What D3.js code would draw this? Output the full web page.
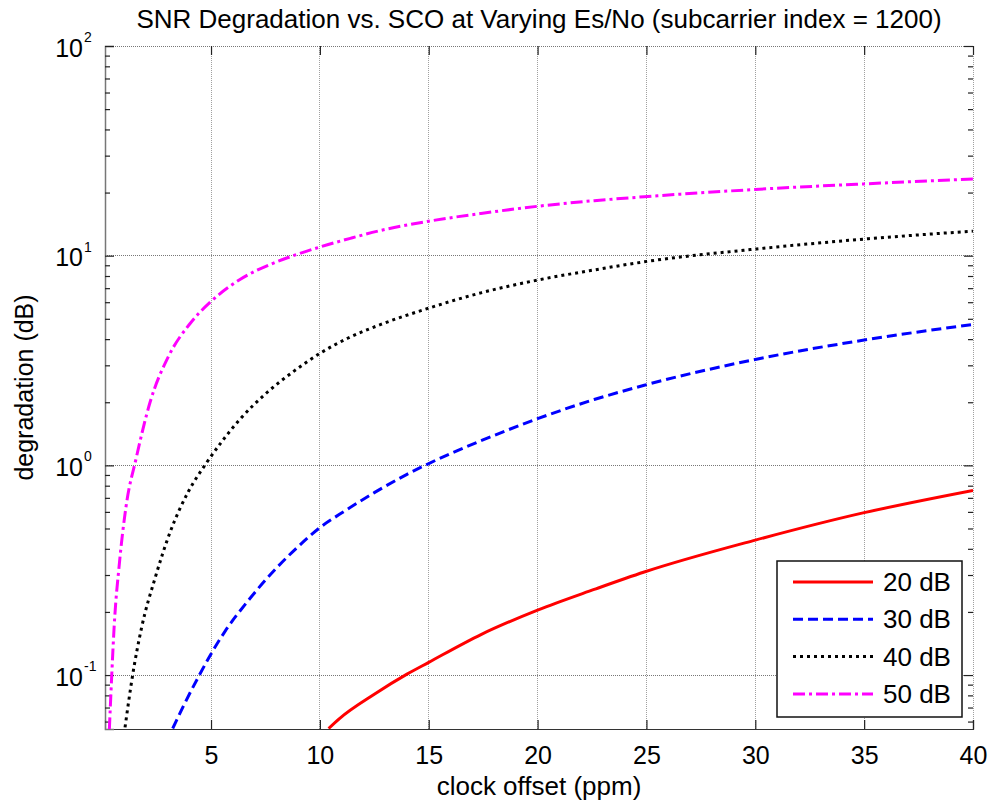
<!DOCTYPE html>
<html>
<head>
<meta charset="utf-8">
<script src="https://cdn.jsdelivr.net/npm/d3@7/dist/d3.min.js"></script>
<style>
  html, body { margin: 0; padding: 0; background: #ffffff; }
  svg { display: block; font-family: "Liberation Sans", Arial, Helvetica, sans-serif; }
</style>
</head>
<body>
<svg id="chart" width="988" height="802"></svg>
<script>
// Clock offset (ppm) and SNR degradation (dB) for each Es/No level
const offset20 = [10.4, 10.9, 12.5, 14.0, 15.0, 17.4, 20.0, 22.6, 24.9, 30.0, 35.0, 40.0];
const degr20   = [0.0556, 0.062, 0.081, 0.101, 0.115, 0.156, 0.204, 0.256, 0.310, 0.440, 0.595, 0.760];

const offset30 = [3.24, 3.73, 4.42, 4.96, 5.65, 6.64, 8.02, 9.09, 10.0, 10.9, 12.5, 14.0, 15.0, 16.1, 17.4, 20.0, 22.6, 24.9, 30.0, 35.0, 40.0];
const degr30   = [0.0556, 0.0711, 0.098, 0.124, 0.162, 0.222, 0.325, 0.418, 0.505, 0.584, 0.741, 0.906, 1.02, 1.15, 1.31, 1.67, 2.06, 2.41, 3.20, 3.96, 4.70];

const offset40 = [1.05, 1.40, 1.82, 2.43, 3.12, 3.96, 4.77, 5.50, 6.33, 7.56, 8.78, 10.0, 11.3, 12.8, 15.0, 17.4, 20.0, 22.6, 24.9, 30.0, 35.0, 40.0];
const degr40   = [0.0563, 0.100, 0.170, 0.290, 0.480, 0.750, 1.02, 1.30, 1.66, 2.22, 2.80, 3.42, 4.05, 4.70, 5.62, 6.65, 7.65, 8.55, 9.35, 10.75, 12.0, 13.1];

const offset50 = [0.33, 0.44, 0.55, 0.79, 1.10, 1.56, 2.20, 3.04, 4.04, 5.00, 6.33, 7.85, 8.78, 10.0, 11.4, 12.8, 15.0, 17.4, 20.0, 22.6, 24.9, 30.0, 35.0, 40.0];
const degr50   = [0.055, 0.100, 0.170, 0.340, 0.640, 1.08, 2.00, 3.30, 4.75, 6.05, 7.70, 9.20, 10.0, 11.0, 12.1, 13.2, 14.6, 15.9, 17.2, 18.3, 19.1, 20.7, 22.0, 23.2];

const seriesLabels = ["20 dB", "30 dB", "40 dB", "50 dB"];
const xTickValues  = [5, 10, 15, 20, 25, 30, 35, 40];
const yTickValues  = [0.1, 1, 10, 100];
const yTickExps    = ["-1", "0", "1", "2"];
const xDomain = [0.13, 40];
const yDomain = [0.0553, 100];

const titleText  = "SNR Degradation vs. SCO at Varying Es/No (subcarrier index = 1200)";
const xLabelText = "clock offset (ppm)";
const yLabelText = "degradation (dB)";

// Line styles per series
const lineStyles = [
  { color: "#ff0000", dash: null },
  { color: "#0000ff", dash: "10,5" },
  { color: "#000000", dash: "3,4" },
  { color: "#ff00ff", dash: "12,4,3,4" }
];

const series = [
  { label: seriesLabels[0], xs: offset20, ys: degr20 },
  { label: seriesLabels[1], xs: offset30, ys: degr30 },
  { label: seriesLabels[2], xs: offset40, ys: degr40 },
  { label: seriesLabels[3], xs: offset50, ys: degr50 }
];

const W = 988, H = 802;
const m = { left: 105, right: 15, top: 46, bottom: 73 };
const pw = W - m.left - m.right, ph = H - m.top - m.bottom;

const svg = d3.select("#chart");
svg.append("rect").attr("width", W).attr("height", H).attr("fill", "#fff");

const x = d3.scaleLinear().domain(xDomain).range([0, pw]);
const y = d3.scaleLog().domain(yDomain).range([ph, 0]);

const g = svg.append("g").attr("transform", `translate(${m.left},${m.top})`);

// Grid
g.append("g").selectAll("line").data(xTickValues).join("line")
  .attr("x1", d => x(d)).attr("x2", d => x(d)).attr("y1", 0).attr("y2", ph)
  .attr("stroke", "#a0a0a0").attr("stroke-width", 1).attr("stroke-dasharray", "1,1")
  .attr("shape-rendering", "crispEdges");
g.append("g").selectAll("line").data(yTickValues).join("line")
  .attr("x1", 0).attr("x2", pw).attr("y1", d => y(d)).attr("y2", d => y(d))
  .attr("stroke", "#777").attr("stroke-width", 1).attr("stroke-dasharray", "1,1")
  .attr("shape-rendering", "crispEdges");

// Minor log ticks
const minorTicks = [];
for (let e = -2; e <= 1; e++) {
  for (let k = 2; k <= 9; k++) {
    const v = k * Math.pow(10, e);
    if (v > yDomain[0] && v < yDomain[1]) minorTicks.push(v);
  }
}

// Axes (ticks pointing inward)
const tickFont = 25;
const labelFont = 26;
const xAxis = d3.axisBottom(x).tickValues(xTickValues).tickSize(-9).tickPadding(17).tickFormat(d3.format("d"));
const gx = g.append("g").attr("transform", `translate(0,${ph})`).call(xAxis);
gx.select(".domain").attr("stroke", "#333").attr("stroke-width", 1.2);
gx.selectAll(".tick line").attr("stroke", "#222").attr("stroke-width", 1.2);
gx.selectAll(".tick text").attr("font-size", tickFont).attr("fill", "#000")
  .attr("font-family", "'Liberation Sans', Arial, sans-serif");

const gxTop = g.append("g").call(d3.axisTop(x).tickValues(xTickValues).tickSize(-9).tickFormat(""));
gxTop.select(".domain").remove();
gxTop.selectAll(".tick line").attr("stroke", "#222").attr("stroke-width", 1.2);

const gyL = g.append("g").call(d3.axisLeft(y).tickValues(yTickValues).tickSize(-9).tickFormat(""));
gyL.select(".domain").attr("stroke", "#777").attr("stroke-width", 1.5);
gyL.selectAll(".tick line").attr("stroke", "#222").attr("stroke-width", 1.2);
const gyLm = g.append("g").call(d3.axisLeft(y).tickValues(minorTicks).tickSize(-5).tickFormat(""));
gyLm.select(".domain").remove();
gyLm.selectAll(".tick line").attr("stroke", "#222").attr("stroke-width", 1.2);

const gyR = g.append("g").attr("transform", `translate(${pw},0)`)
  .call(d3.axisRight(y).tickValues(yTickValues).tickSize(-9).tickFormat(""));
gyR.select(".domain").remove();
gyR.selectAll(".tick line").attr("stroke", "#222").attr("stroke-width", 1.2);
const gyRm = g.append("g").attr("transform", `translate(${pw},0)`)
  .call(d3.axisRight(y).tickValues(minorTicks).tickSize(-5).tickFormat(""));
gyRm.select(".domain").remove();
gyRm.selectAll(".tick line").attr("stroke", "#222").attr("stroke-width", 1.2);

// Power-of-ten labels on the y axis
const ylab = g.append("g").attr("font-size", tickFont).attr("fill", "#000");
yTickValues.forEach((v, i) => {
  ylab.append("text").attr("x", -22).attr("y", y(v) + 10.5).attr("text-anchor", "end").text("10");
  ylab.append("text").attr("x", -21).attr("y", y(v) - 4).attr("font-size", 14).text(yTickExps[i]);
});

// Curves
svg.append("clipPath").attr("id", "plotClip")
  .append("rect").attr("x", 0).attr("y", 0).attr("width", pw).attr("height", ph);

const line = d3.line().x(d => x(d[0])).y(d => y(d[1])).curve(d3.curveMonotoneX);
const curves = g.append("g").attr("clip-path", "url(#plotClip)");
series.forEach((s, i) => {
  const pts = s.xs.map((xv, j) => [xv, s.ys[j]]);
  curves.append("path").datum(pts)
    .attr("d", line)
    .attr("fill", "none")
    .attr("stroke", lineStyles[i].color)
    .attr("stroke-width", 3)
    .attr("stroke-dasharray", lineStyles[i].dash)
    .attr("stroke-linejoin", "round");
});

// Legend
const lg = svg.append("g").attr("transform", "translate(777,561)");
lg.append("rect").attr("width", 185).attr("height", 156)
  .attr("fill", "#fff").attr("stroke", "#111").attr("stroke-width", 1.5);
series.forEach((s, i) => {
  const ly = 21 + i * 37.3;
  lg.append("line").attr("x1", 16).attr("x2", 96).attr("y1", ly).attr("y2", ly)
    .attr("stroke", lineStyles[i].color).attr("stroke-width", 3)
    .attr("stroke-dasharray", lineStyles[i].dash);
  lg.append("text").attr("x", 106).attr("y", ly + 9).attr("font-size", labelFont)
    .attr("fill", "#000").text(s.label);
});

// Title and axis labels
svg.append("text").attr("x", m.left + pw / 2).attr("y", 28).attr("text-anchor", "middle")
  .attr("font-size", labelFont).attr("fill", "#000").text(titleText);
svg.append("text").attr("x", m.left + pw / 2).attr("y", 795).attr("text-anchor", "middle")
  .attr("font-size", labelFont).attr("fill", "#000").text(xLabelText);
svg.append("text").attr("transform", `translate(33,${m.top + ph / 2}) rotate(-90)`)
  .attr("text-anchor", "middle").attr("font-size", tickFont).attr("fill", "#000").text(yLabelText);
</script>
</body>
</html>
